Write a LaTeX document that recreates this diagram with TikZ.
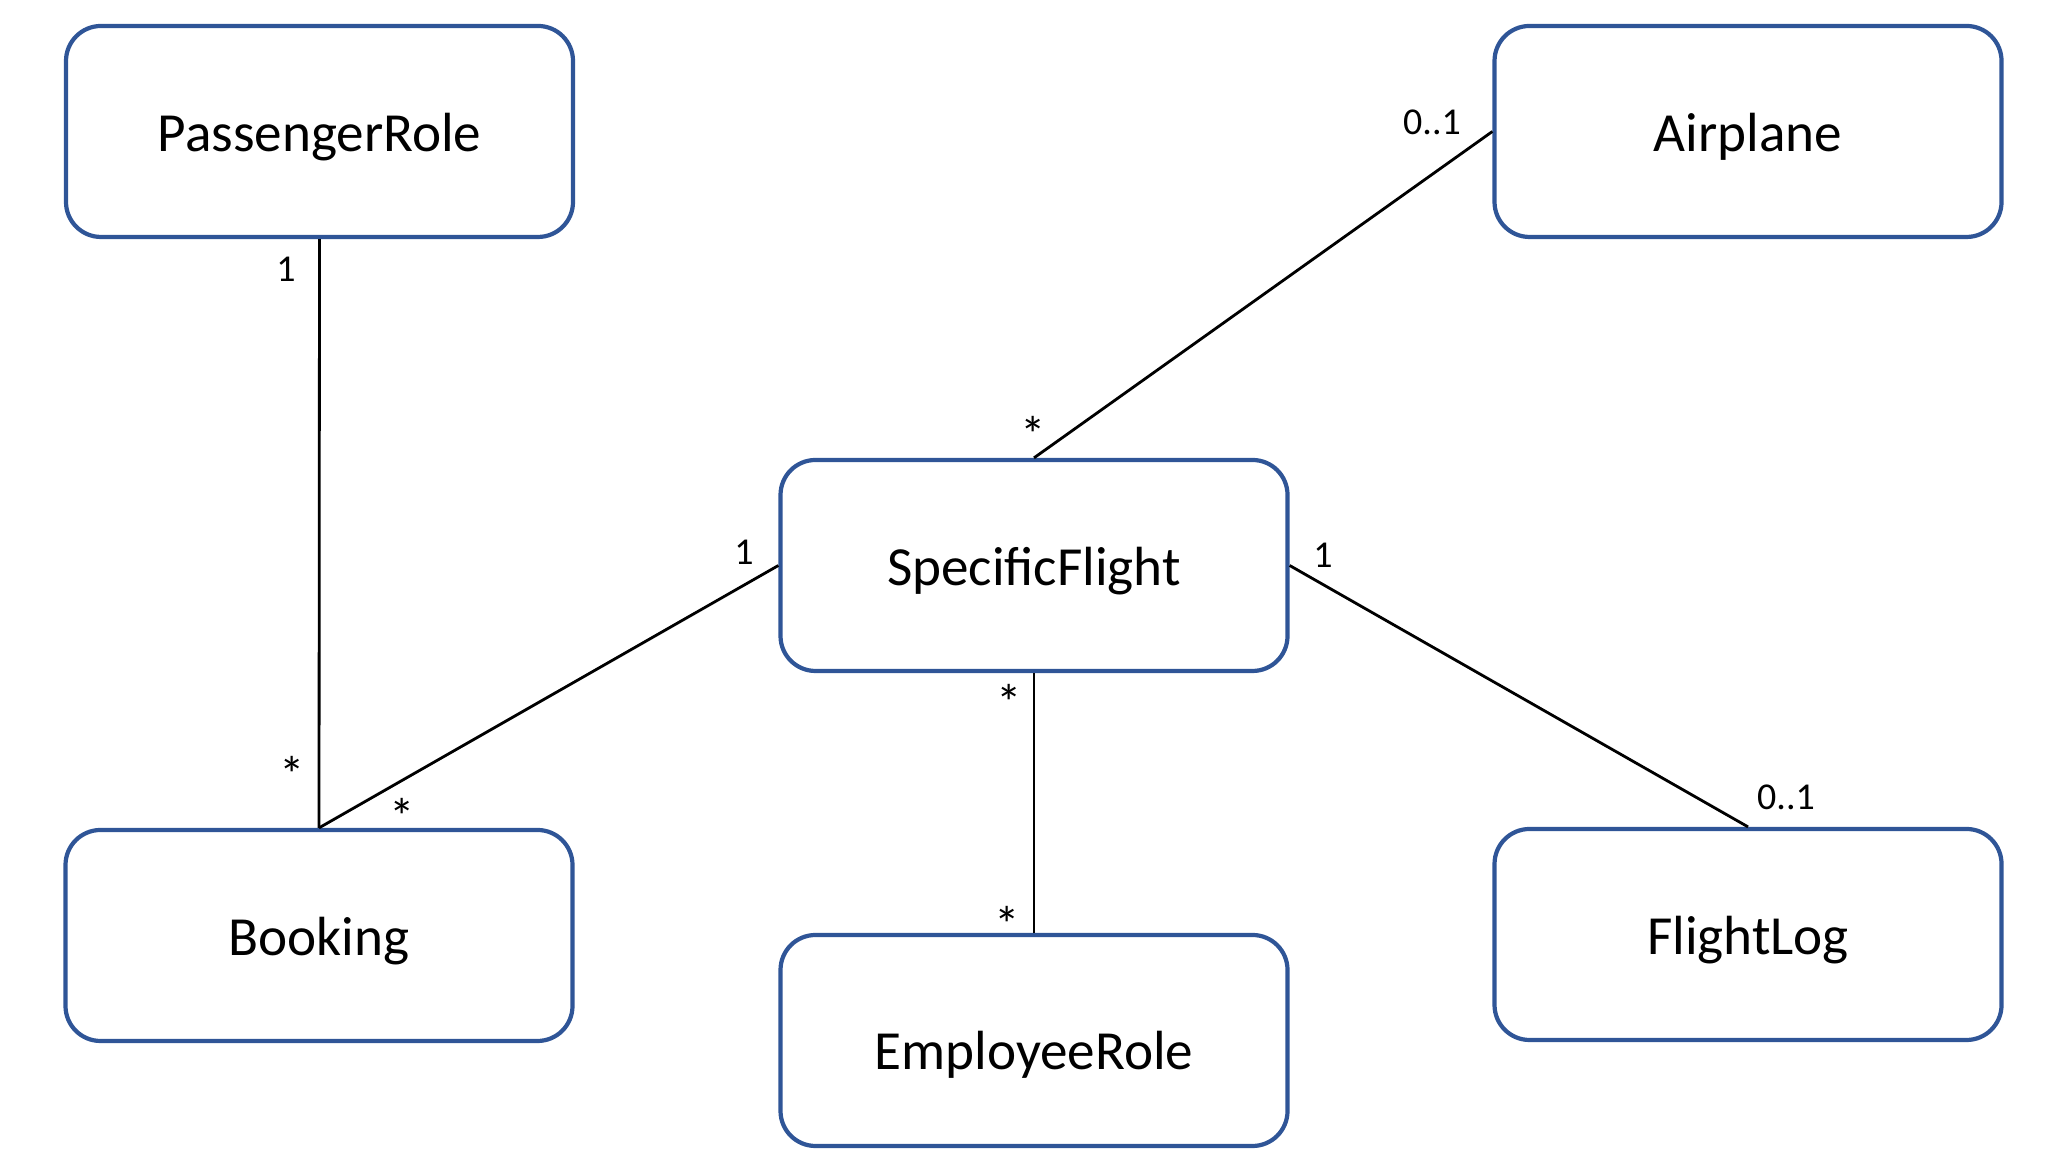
\documentclass[tikz,border=0pt]{standalone}
\usepackage{fontspec}
\setmainfont{Carlito}
\definecolor{boxblue}{RGB}{47,85,151}

\begin{document}
\begin{tikzpicture}[line width=0.8pt,
    cls/.style={draw=boxblue,line width=1.2pt,rounded corners=3.5mm,
      minimum width=5.07cm,minimum height=2.11cm,inner sep=0pt,
      font=\fontsize{15.7}{18}\selectfont,text height=11.5pt,text depth=0pt},
    mult/.style={font=\fontsize{10.8}{13}\selectfont,anchor=base,inner sep=0pt},
    star/.style={mult,font=\fontsize{14.5}{16}\selectfont}]
  \useasboundingbox (0,0) rectangle (20.68,11.56);
  \node[cls] (passenger) at (3.195,10.245) {PassengerRole};
  \node[cls] (airplane) at (17.48,10.245) {Airplane};
  \node[cls] (flight) at (10.34,5.905) {SpecificFlight};
  \node[cls] (booking) at (3.19,2.205) {Booking};
  \node[cls,text height=16.3pt] (employee) at (10.34,1.155) {EmployeeRole};
  \node[cls] (flightlog) at (17.48,2.215) {FlightLog};
  \draw (passenger.south)--(booking.north);
  \draw (booking.north)--(flight.west);
  \draw (flight.north)--(airplane.west);
  \draw (flight.south)--(employee.north);
  \draw (flight.east)--(flightlog.north);
  \node[mult] (mPassTop) at (2.86,8.74) {1};
  \node[star] (mPassBot) at (2.92,3.63) {*};
  \node[star] (mBookSF) at (4.02,3.21) {*};
  \node[mult] (mSFBook) at (7.44,5.91) {1};
  \node[star] (mSFAir) at (10.33,7.03) {*};
  \node[mult] (mAirSF) at (14.32,10.21) {0..1};
  \node[star] (mSFEmp) at (10.09,4.35) {*};
  \node[star] (mEmpSF) at (10.07,2.13) {*};
  \node[mult] (mSFLog) at (13.23,5.88) {1};
  \node[mult] (mLogSF) at (17.86,3.46) {0..1};
\end{tikzpicture}
\end{document}
